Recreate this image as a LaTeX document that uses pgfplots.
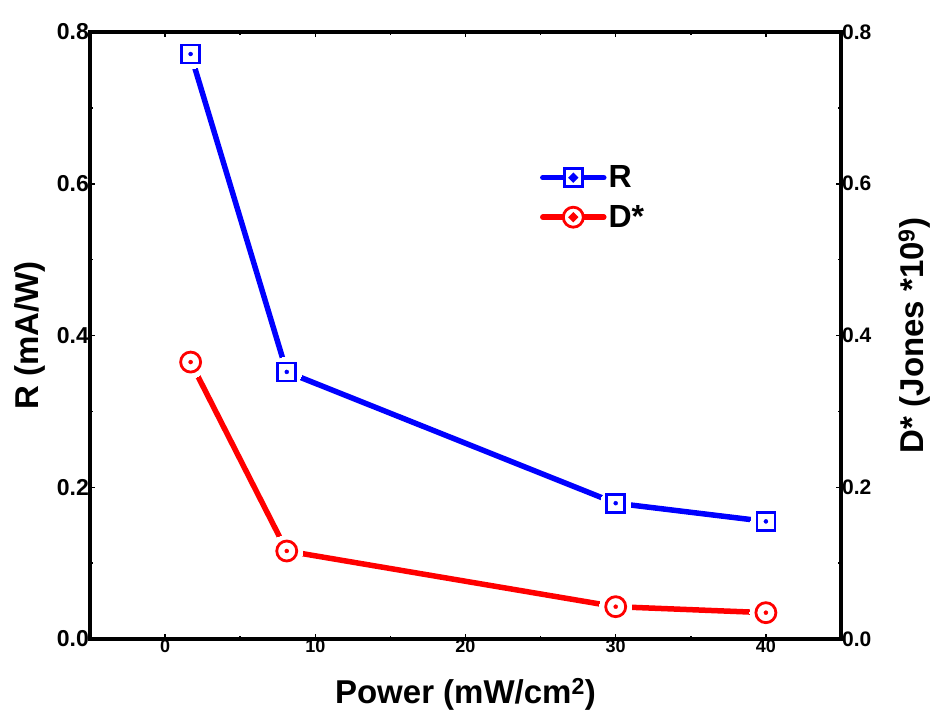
\documentclass[border=0pt]{standalone}
\usepackage{pgfplots}
\pgfplotsset{compat=1.18}
\usepackage{fontspec}
\setmainfont{Liberation Sans}
\definecolor{myblue}{RGB}{0,0,255}
\definecolor{myred}{RGB}{255,0,0}
\pgfplotstableread{
x y
1.7 0.771
8.1 0.352
30 0.179
40 0.155
}\Rdata
\pgfplotstableread{
x y
1.7 0.365
8.1 0.116
30 0.0426
40 0.0347
}\Ddata
\begin{document}
\begin{tikzpicture}
\pgfplotsset{
  base/.style={
    scale only axis, width=751pt, height=607pt,
    xmin=-5, xmax=45, ymin=0, ymax=0.8,
    axis line style={line width=3.5pt, line cap=rect},
    tick style={line width=1.5pt, black},
    major tick length=5pt, minor tick length=3pt,
    tick align=inside,
    /pgf/number format/assume math mode=true,
    ytick={0,0.2,0.4,0.6,0.8}, minor y tick num=1,
    y tick label style={/pgf/number format/fixed, /pgf/number format/fixed zerofill, /pgf/number format/precision=1},
    label style={font=\fontsize{33}{33}\selectfont\bfseries},
  }
}
\begin{axis}[base,
  xtick pos=both, ytick pos=left,
  xtick={0,10,20,30,40}, minor x tick num=1,
  x tick label style={font=\fontsize{18}{18}\selectfont\bfseries, inner sep=1pt},
  y tick label style={font=\fontsize{23}{23}\selectfont\bfseries, inner sep=1pt},
  xlabel={Power (mW/cm\textsuperscript{2})},
  ylabel={R (mA/W)},
  xlabel style={at={(axis description cs:0.5,-0.091)}, anchor=center},
  ylabel style={at={(axis description cs:-0.08,0.5)}, anchor=center},
  legend style={draw=none, fill=none, at={(axis description cs:0.599,0.783)}, anchor=north west,
    font=\fontsize{32}{32}\selectfont\bfseries, row sep=12pt, inner sep=0pt},
  legend cell align=left,
]
% R series
\addplot[myblue, line width=5.5pt, line cap=round,
  legend image code/.code={
    \draw[myblue, line width=5.5pt, line cap=round] (0pt,0pt) -- (61pt,0pt);
    \draw[myblue, line width=2.8pt, fill=white] (21.5pt,-9pt) rectangle (39.5pt,9pt);
    \fill[myblue] (30.5pt,0pt) circle (1.3pt);
  }] table[x=x,y=y] {\Rdata};
\addlegendentry{R}
% D series
\addplot[myred, line width=5.5pt, line cap=round,
  legend image code/.code={
    \draw[myred, line width=5.5pt, line cap=round] (0pt,0pt) -- (61pt,0pt);
    \draw[myred, line width=2.8pt, fill=white] (30.5pt,0pt) circle (10pt);
    \fill[myred] (30.5pt,0pt) circle (1.3pt);
  }] table[x=x,y=y] {\Ddata};
\addlegendentry{D*}
% white gaps
\addplot[forget plot, white, only marks, mark=*, mark size=15pt, mark options={draw=white, fill=white, line width=0pt}] table[x=x,y=y] {\Rdata};
\addplot[forget plot, white, only marks, mark=*, mark size=16pt, mark options={draw=white, fill=white, line width=0pt}] table[x=x,y=y] {\Ddata};
% markers
\addplot[forget plot, myblue, only marks, mark=square, mark size=9pt, mark options={myblue, line width=2.8pt}] table[x=x,y=y] {\Rdata};
\addplot[forget plot, myblue, only marks, mark=*, mark size=2pt, mark options={myblue, draw=none, fill=myblue}] table[x=x,y=y] {\Rdata};
\addplot[forget plot, myred, only marks, mark=o, mark size=10pt, mark options={myred, line width=2.8pt}] table[x=x,y=y] {\Ddata};
\addplot[forget plot, myred, only marks, mark=*, mark size=2pt, mark options={myred, draw=none, fill=myred}] table[x=x,y=y] {\Ddata};
\end{axis}
\begin{axis}[base,
  axis x line=none, axis y line*=right, ytick pos=right,
  y tick label style={font=\fontsize{21}{21}\selectfont\bfseries, inner sep=1pt},
  ylabel={D* (Jones *10\textsuperscript{9})},
  ylabel style={at={(axis description cs:1.098,0.5)}, anchor=center, rotate=0},
]
\addplot[draw=none] coordinates {(0,0)};
\end{axis}
\pgfresetboundingbox
\path[use as bounding box] (-90pt,-74pt) rectangle (845pt,639pt);
\end{tikzpicture}
\end{document}
